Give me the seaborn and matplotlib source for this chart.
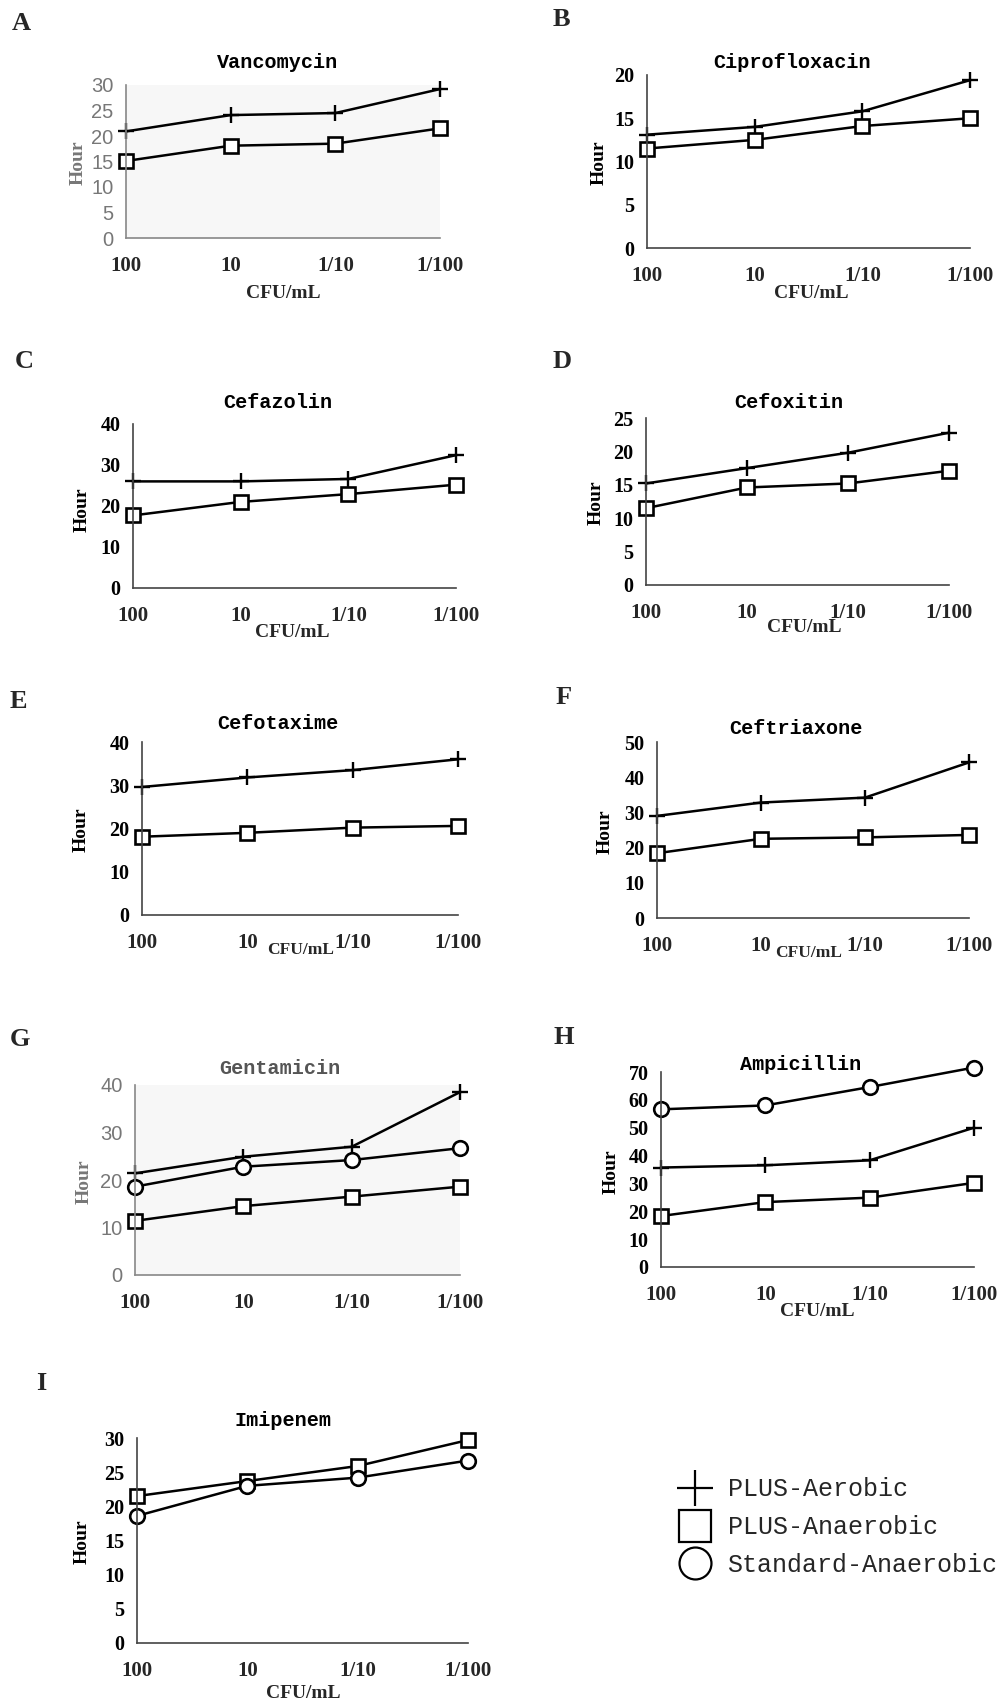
import numpy as np
import pandas as pd
import seaborn as sns
import matplotlib.pyplot as plt
from matplotlib.lines import Line2D

# x categories (CFU/mL)
doses = ["100", "10", "1/10", "1/100"]

# hours to detection
vanco_aer = [20.9, 24.1, 24.5, 29.2]
vanco_ana = [15.1, 18.1, 18.5, 21.5]
cipro_aer = [13.1, 14.0, 15.8, 19.4]
cipro_ana = [11.5, 12.5, 14.1, 15.0]
cefaz_aer = [26.0, 26.0, 26.6, 32.4]
cefaz_ana = [17.7, 21.0, 22.9, 25.2]
cefox_aer = [15.2, 17.5, 19.8, 22.8]
cefox_ana = [11.5, 14.6, 15.2, 17.1]
cefot_aer = [29.6, 31.8, 33.5, 36.0]
cefot_ana = [18.1, 19.0, 20.2, 20.6]
ceftr_aer = [29.0, 32.8, 34.2, 44.2]
ceftr_ana = [18.4, 22.5, 22.9, 23.6]
genta_aer = [21.4, 24.9, 27.0, 38.5]
genta_ana = [11.4, 14.5, 16.5, 18.6]
genta_std = [18.6, 22.8, 24.2, 26.7]
ampi_aer = [35.7, 36.5, 38.3, 50.0]
ampi_ana = [18.3, 23.3, 24.9, 30.2]
ampi_std = [56.6, 58.0, 64.6, 71.6]
imi_ana = [21.5, 23.7, 25.9, 29.7]
imi_std = [18.6, 23.0, 24.2, 26.7]

legend_labels = ["PLUS-Aerobic", "PLUS-Anaerobic", "Standard-Anaerobic"]

W, H = 1008, 1703
sns.set_style("white")
plt.rcParams["font.family"] = ["Liberation Serif", "DejaVu Sans"]

fig = plt.figure(figsize=(W / 100, H / 100), dpi=100)

marker_style = {
    "aer": dict(marker="+", markersize=12, markeredgewidth=1.7),
    "ana": dict(marker="s", markersize=9.5, markerfacecolor="white", markeredgewidth=1.9),
    "std": dict(marker="o", markersize=10.5, markerfacecolor="white", markeredgewidth=1.9),
}

# (letter, title, series, ymax, ystep, box px (l, t, r, b), title xy, hour xy,
#  cfu xy + size, letter xy, faded)
panels = [
    ("A", "Vancomycin", {"aer": vanco_aer, "ana": vanco_ana}, 30, 5,
     (126, 85, 440, 238), (278, 62), (78, 163), (283, 293, 14), (12, 23), True),
    ("B", "Ciprofloxacin", {"aer": cipro_aer, "ana": cipro_ana}, 20, 5,
     (647, 75, 970, 248), (792, 62), (599, 163), (811, 293, 14), (553, 20), False),
    ("C", "Cefazolin", {"aer": cefaz_aer, "ana": cefaz_ana}, 40, 10,
     (133, 424, 456, 588), (278, 403), (82, 510), (292, 632, 14), (15, 362), False),
    ("D", "Cefoxitin", {"aer": cefox_aer, "ana": cefox_ana}, 25, 5,
     (646, 418, 949, 585), (789, 403), (596, 503), (804, 627, 14), (553, 362), False),
    ("E", "Cefotaxime", {"aer": cefot_aer, "ana": cefot_ana}, 40, 10,
     (142, 742, 458, 915), (278, 723), (81, 830), (301, 950, 12.5), (10, 702), False),
    ("F", "Ceftriaxone", {"aer": ceftr_aer, "ana": ceftr_ana}, 50, 10,
     (657, 742, 969, 918), (796, 728), (605, 832), (809, 953, 12.5), (556, 697), False),
    ("G", "Gentamicin", {"aer": genta_aer, "std": genta_std, "ana": genta_ana}, 40, 10,
     (135, 1085, 460, 1275), (280, 1068), (84, 1182), None, (10, 1040), True),
    ("H", "Ampicillin", {"std": ampi_std, "aer": ampi_aer, "ana": ampi_ana}, 70, 10,
     (661, 1072, 974, 1267), (801, 1065), (611, 1172), (817, 1312, 14), (554, 1037), False),
    ("I", "Imipenem", {"ana": imi_ana, "std": imi_std}, 30, 5,
     (137, 1438, 468, 1643), (283, 1420), (82, 1542), (303, 1693, 14), (36, 1383), False),
]

for letter, title, series, ymax, ystep, box, txy, hxy, cxy, lxy, faded in panels:
    l, t, r, b = box
    ax = fig.add_axes([l / W, 1 - b / H, (r - l) / W, (b - t) / H])
    ax.set_facecolor("#f7f7f7" if faded else "white")
    for key, vals in series.items():
        df = pd.DataFrame({"dose": doses, "hour": vals})
        sns.lineplot(data=df, x="dose", y="hour", ax=ax, sort=False, color="black",
                     linewidth=1.8, markeredgecolor="black", clip_on=False,
                     **marker_style[key])
    ax.set_xlim(0, len(doses) - 1)
    ax.set_ylim(0, ymax)
    ax.set_yticks(np.arange(0, ymax + 1, ystep))
    ax.set_xlabel("")
    ax.set_ylabel("")
    for side in ["top", "right"]:
        ax.spines[side].set_visible(False)
    spine_col = "#888888" if faded else "#444444"
    for side in ["left", "bottom"]:
        ax.spines[side].set_color(spine_col)
        ax.spines[side].set_linewidth(1.2)
    ax.tick_params(axis="both", direction="in", length=5, width=1.1, color=spine_col)
    ax.tick_params(axis="x", pad=13, labelsize=15)
    ax.tick_params(axis="y", pad=9, labelsize=14.5)
    tick_col = "#777777" if faded else "black"
    for lab in ax.get_xticklabels():
        lab.set_fontweight("bold")
    for lab in ax.get_yticklabels():
        lab.set_color(tick_col)
        if faded:
            lab.set_family("Liberation Sans")
        else:
            lab.set_fontweight("bold")

    fig.text(txy[0] / W, 1 - txy[1] / H, title, ha="center", va="center",
             family="Liberation Mono", fontweight="bold", fontsize=14.5,
             color="#555555" if letter == "G" else "black")
    fig.text(hxy[0] / W, 1 - hxy[1] / H, "Hour", ha="center", va="center", rotation=90,
             fontsize=14, fontweight="bold", color=tick_col)
    if cxy is not None:
        fig.text(cxy[0] / W, 1 - cxy[1] / H, "CFU/mL", ha="center", va="center",
                 fontsize=cxy[2], fontweight="bold")
    fig.text(lxy[0] / W, 1 - lxy[1] / H, letter, ha="left", va="center",
             fontsize=19, fontweight="bold")

handles = [
    Line2D([], [], linestyle="none", marker="+", markersize=26, markeredgewidth=1.6, color="black"),
    Line2D([], [], linestyle="none", marker="s", markersize=23, markerfacecolor="white",
           markeredgewidth=1.6, markeredgecolor="black"),
    Line2D([], [], linestyle="none", marker="o", markersize=23, markerfacecolor="white",
           markeredgewidth=1.6, markeredgecolor="black"),
]
fig.legend(handles, legend_labels, loc="upper left", bbox_to_anchor=(655 / W, 1 - 1455 / H),
           frameon=False, prop={"family": "Liberation Mono", "size": 18},
           labelspacing=0.55, handletextpad=0.6, handlelength=1.4)

fig.savefig("out.png", dpi=100, facecolor="white")
